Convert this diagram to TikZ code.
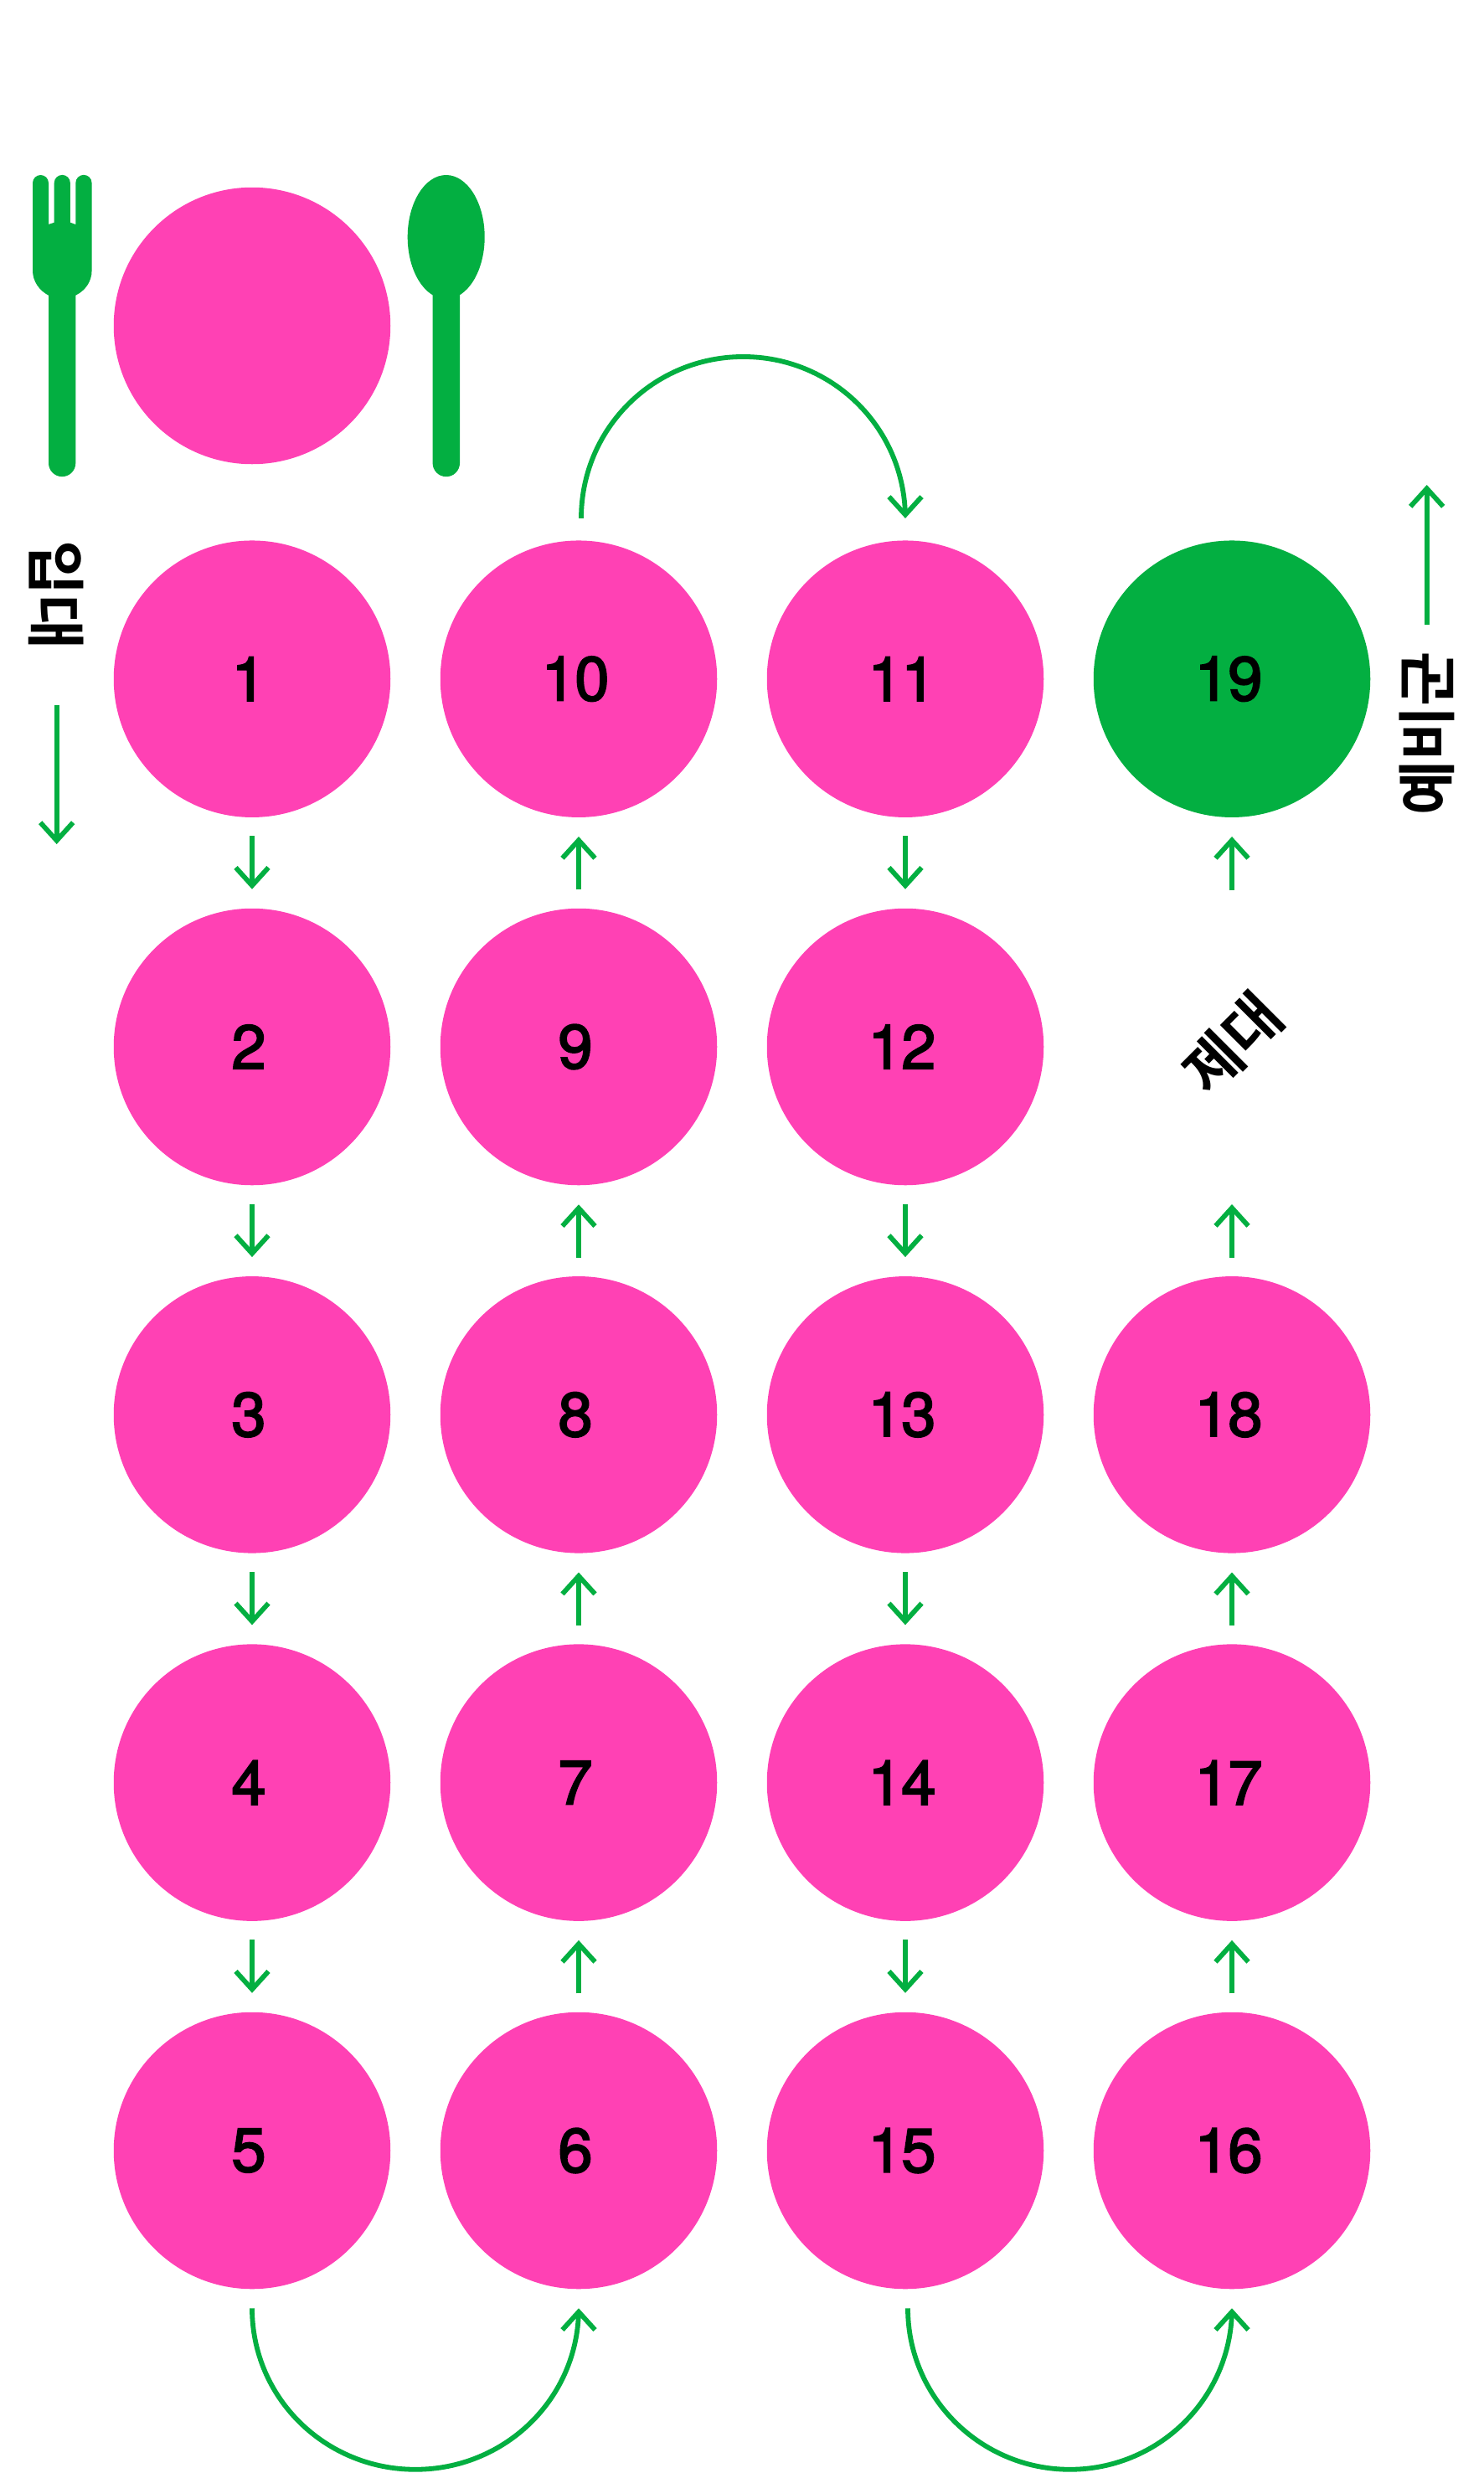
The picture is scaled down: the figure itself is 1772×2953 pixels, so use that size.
\documentclass[tikz,border=0pt]{standalone}
\usepackage{fontspec}
\usetikzlibrary{arrows.meta,calc,bending}
\newfontfamily\numf{TeX Gyre Heros}[RawFeature={embolden=2.6},LetterSpace=-2]
\newfontfamily\korf{Noto Sans CJK KR}[BoldFont={Noto Sans CJK KR Bold}]
\definecolor{pinkc}{HTML}{FF41B4}
\definecolor{greenc}{HTML}{03AF41}
\tikzset{
  x=1pt,y=1pt,
  disc/.style={circle,fill=pinkc,minimum size=330.5pt,inner sep=0pt,outer sep=0pt,font=\numf\fontsize{74}{74}\selectfont,text=black},
  disclast/.style={disc,fill=greenc},
  arr/.style={draw=greenc,line width=5.8pt,-{Straight Barb[length=21.5pt,width=39pt,line width=5.8pt,flex=0]}},
  gapped/.style={arr,shorten <=22.5pt,shorten >=23pt},
  kor/.style={font=\korf\bfseries\fontsize{71}{71}\selectfont,text=black,inner sep=0pt},
}
\newcommand{\nm}[1]{#1\kern8pt}
\begin{document}
\begin{tikzpicture}
\useasboundingbox (0,0) rectangle (1772,-2953);
\fill[white] (0,0) rectangle (1772,-2953);
% tableware
\node[disc] (plate) at (301,-389) {};
\fill[greenc] (39,-323) -- (39,-218.5) arc[start angle=180,end angle=0,radius=9.5] -- (58,-268) -- (64.7,-265.7) -- (64.7,-218.5) arc[start angle=180,end angle=0,radius=9.6] -- (83.9,-265.7) -- (90.3,-268) -- (90.3,-218.5) arc[start angle=180,end angle=0,radius=9.65] -- (109.6,-323) .. controls (109.6,-336) and (102,-347) .. (90.3,-352.7) -- (90.3,-553) arc[start angle=0,end angle=-180,radius=16.15] -- (58,-352.7) .. controls (47,-347) and (39,-336) .. (39,-323) -- cycle;
\fill[greenc] (532.7,-283) ellipse[x radius=46,y radius=74];
\fill[greenc] (516.6,-345) -- (549,-345) -- (549,-553) arc[start angle=0,end angle=-180,radius=16.2] -- cycle;
% discs
\def\colA{301}\def\colB{691}\def\colC{1081}\def\colD{1471}
\def\rowA{-810.7}\def\rowB{-1250}\def\rowC{-1689.3}\def\rowD{-2128.6}\def\rowE{-2568}
\node[disc] (c1) at (\colA,\rowA) {\nm{1}};
\node[disc] (c2) at (\colA,\rowB) {\nm{2}};
\node[disc] (c3) at (\colA,\rowC) {\nm{3}};
\node[disc] (c4) at (\colA,\rowD) {\nm{4}};
\node[disc] (c5) at (\colA,\rowE) {\nm{5}};
\node[disc] (c6) at (\colB,\rowE) {\nm{6}};
\node[disc] (c7) at (\colB,\rowD) {\nm{7}};
\node[disc] (c8) at (\colB,\rowC) {\nm{8}};
\node[disc] (c9) at (\colB,\rowB) {\nm{9}};
\node[disc] (c10) at (\colB,\rowA) {\nm{10}};
\node[disc] (c11) at (\colC,\rowA) {\nm{11}};
\node[disc] (c12) at (\colC,\rowB) {\nm{12}};
\node[disc] (c13) at (\colC,\rowC) {\nm{13}};
\node[disc] (c14) at (\colC,\rowD) {\nm{14}};
\node[disc] (c15) at (\colC,\rowE) {\nm{15}};
\node[disc] (c16) at (\colD,\rowE) {\nm{16}};
\node[disc] (c17) at (\colD,\rowD) {\nm{17}};
\node[disc] (c18) at (\colD,\rowC) {\nm{18}};
\node[disclast] (c19) at (\colD,\rowA) {\nm{19}};
% labels
\node[kor,rotate=-90] (enter) at (67.5,-710.5) {입대};
\node[kor,rotate=90] (reserve) at (1703.5,-876) {예비군};
\node[kor,rotate=45] (leave) at (1472,-1246) {제대};
% free ends
\coordinate (enterA) at (67.7,-841.7);
\coordinate (enterB) at (67.7,-1008);
\coordinate (resA) at (1703.7,-746);
\coordinate (resB) at (1703.7,-579);
\coordinate (gapc) at (\colD,\rowB);
% straight connectors
\draw[arr] (enterA) -- (enterB);
\draw[arr] (resA) -- (resB);
\foreach \a/\b in {c1/c2,c2/c3,c3/c4,c4/c5,c6/c7,c7/c8,c8/c9,c9/c10,c11/c12,c12/c13,c13/c14,c14/c15,c16/c17,c17/c18}
  \draw[gapped] (\a) -- (\b);
\draw[arr,shorten <=22.5pt,shorten >=188pt] (c18) -- (gapc);
\draw[arr,shorten <=187pt,shorten >=23pt] (gapc) -- (c19);
% curved connectors
\coordinate (s5) at ($(c5.south)+(0,-23)$);
\coordinate (e6) at ($(c6.south)+(0,-23)$);
\coordinate (m56) at ($(s5)!.5!(e6)+(0,-192.5)$);
\draw[arr] (s5) to[out=-90,in=180] (m56) to[out=0,in=-90] (e6);
\coordinate (s15) at ($(c15.south)+(3,-23)$);
\coordinate (e16) at ($(c16.south)+(0,-23)$);
\coordinate (m1516) at ($(s15)!.5!(e16)+(0,-192.5)$);
\draw[arr] (s15) to[out=-90,in=180] (m1516) to[out=0,in=-90] (e16);
\coordinate (s10) at ($(c10.north)+(3,26.5)$);
\coordinate (e11) at ($(c11.north)+(0,26.5)$);
\coordinate (m1011) at ($(s10)!.5!(e11)+(0,193)$);
\draw[arr] (s10) to[out=90,in=180] (m1011) to[out=0,in=90] (e11);
\end{tikzpicture}
\end{document}
